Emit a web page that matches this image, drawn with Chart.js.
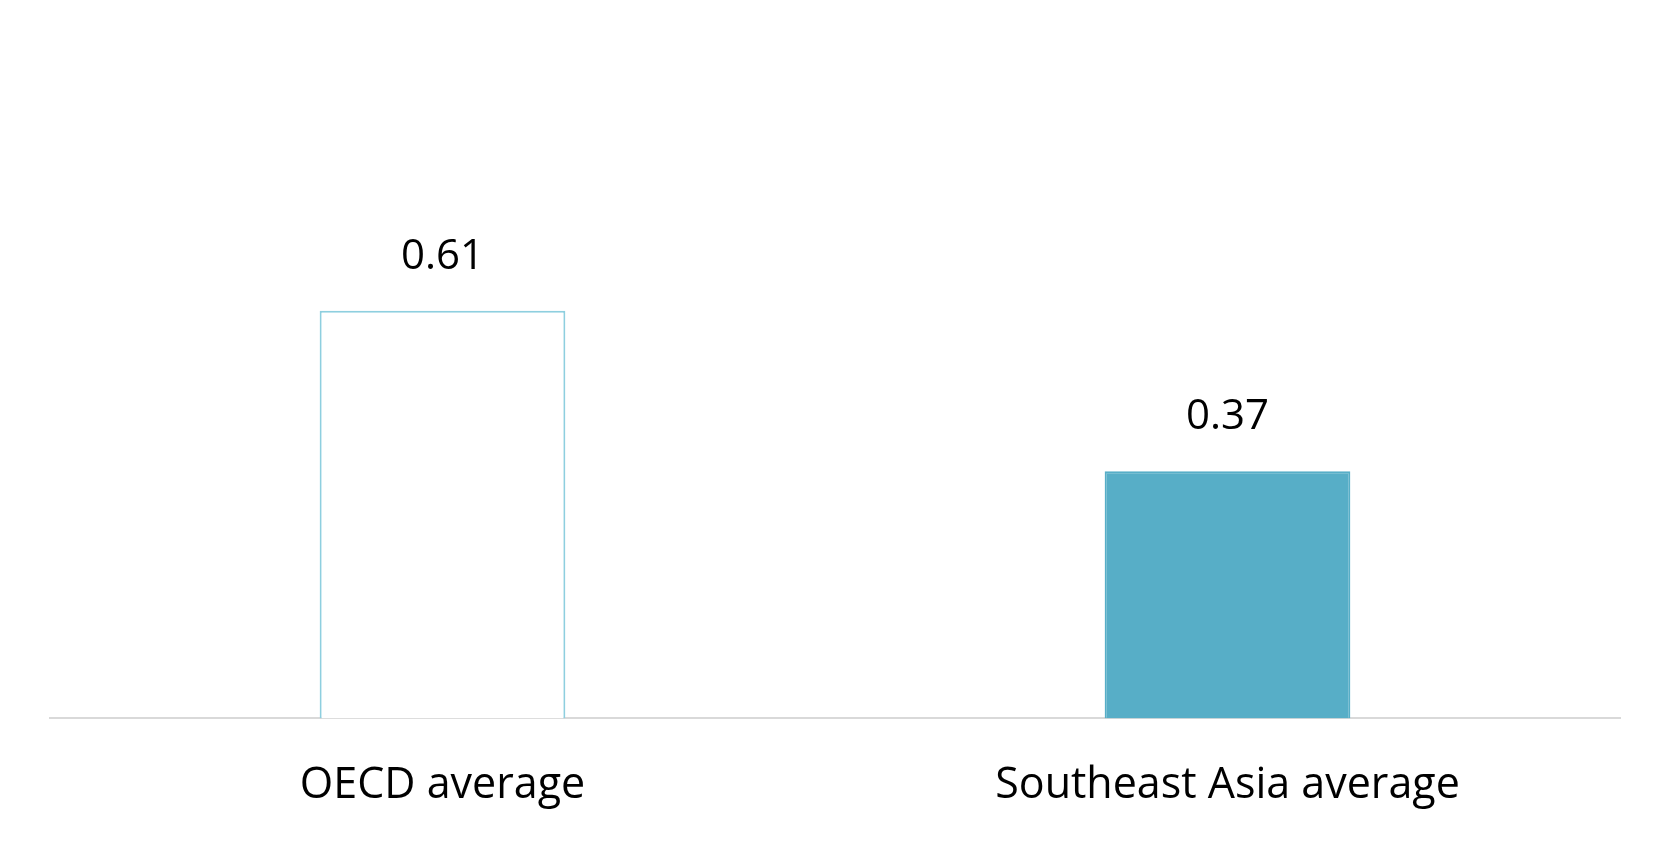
<!DOCTYPE html>
<html><head><meta charset="utf-8">
<script src="https://cdn.jsdelivr.net/npm/chart.js@4"></script>
<style>html,body{margin:0;padding:0;background:#fff}#wrap{width:1672px;height:854px}</style>
</head><body><div id="wrap"><canvas id="c"></canvas></div>
<script>
const categories = ["OECD average", "Southeast Asia average"];
const values = [0.61, 0.37];
const labels = ["0.61", "0.37"];
const font = "'Open Sans', 'Liberation Sans', sans-serif";
const valueLabels = {
  id: 'valueLabels',
  afterDatasetsDraw(chart) {
    const ctx = chart.ctx;
    const meta = chart.getDatasetMeta(0);
    ctx.save();
    ctx.font = "42px " + font;
    ctx.fillStyle = "#000";
    ctx.textAlign = "center";
    ctx.textBaseline = "middle";
    meta.data.forEach((b, i) => ctx.fillText(labels[i], b.x, b.y - 54));
    ctx.restore();
  }
};
new Chart(document.getElementById('c'), {
  type: 'bar',
  data: { labels: categories, datasets: [{
    data: values,
    backgroundColor: ['#ffffff', '#57aec7'],
    borderColor: ['#8ecfdf', '#57aec7'],
    borderWidth: 2,
    borderSkipped: 'bottom',
    categoryPercentage: 1,
    barPercentage: 0.313
  }]},
  options: {
    responsive: true, maintainAspectRatio: false, animation: false,
    layout: { padding: { left: 50, right: 52, top: 117, bottom: 0 } },
    plugins: { legend: { display: false }, tooltip: { enabled: false } },
    scales: {
      x: { grid: { display: false, drawTicks: false }, border: { color: '#d9d9d9', width: 2 },
           ticks: { color: '#000', padding: 42, font: { size: 43, family: font } } },
      y: { display: false, min: 0, max: 0.9 }
    }
  },
  plugins: [valueLabels]
});
</script></body></html>
